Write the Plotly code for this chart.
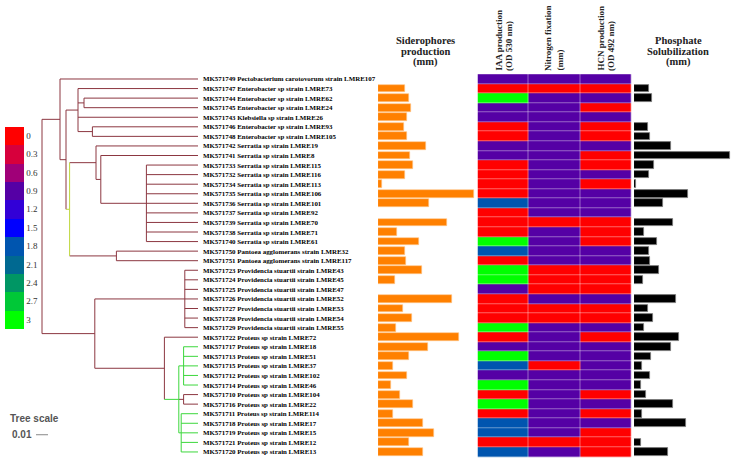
import plotly.graph_objects as go

W, H = 735, 462

strains = [
    "MK571749 Pectobacterium carotovorum strain LMRE107",
    "MK571747 Enterobacter sp strain LMRE73",
    "MK571744 Enterobacter sp strain LMRE62",
    "MK571745 Enterobacter sp strain LMRE24",
    "MK571743 Klebsiella sp strain LMRE26",
    "MK571746 Enterobacter sp strain LMRE93",
    "MK571748 Enterobacter sp strain LMRE105",
    "MK571742 Serratia sp strain LMRE19",
    "MK571741 Serratia sp strain LMRE8",
    "MK571733 Serratia sp strain LMRE115",
    "MK571732 Serratia sp strain LMRE116",
    "MK571734 Serratia sp strain LMRE113",
    "MK571735 Serratia sp strain LMRE106",
    "MK571736 Serratia sp strain LMRE101",
    "MK571737 Serratia sp strain LMRE92",
    "MK571739 Serratia sp strain LMRE70",
    "MK571738 Serratia sp strain LMRE71",
    "MK571740 Serratia sp strain LMRE61",
    "MK571750 Pantoea agglomerans strain LMRE32",
    "MK571751 Pantoea agglomerans strain LMRE117",
    "MK571723 Providencia stuartii strain LMRE43",
    "MK571724 Providencia stuartii strain LMRE45",
    "MK571725 Providencia stuartii strain LMRE47",
    "MK571726 Providencia stuartii strain LMRE52",
    "MK571727 Providencia stuartii strain LMRE53",
    "MK571728 Providencia stuartii strain LMRE54",
    "MK571729 Providencia stuartii strain LMRE55",
    "MK571722 Proteus sp strain LMRE72",
    "MK571717 Proteus sp strain LMRE18",
    "MK571713 Proteus sp strain LMRE51",
    "MK571715 Proteus sp strain LMRE37",
    "MK571712 Proteus sp strain LMRE102",
    "MK571714 Proteus sp strain LMRE46",
    "MK571710 Proteus sp strain LMRE104",
    "MK571716 Proteus sp strain LMRE22",
    "MK571711 Proteus sp strain LMRE114",
    "MK571718 Proteus sp strain LMRE17",
    "MK571719 Proteus sp strain LMRE15",
    "MK571721 Proteus sp strain LMRE12",
    "MK571720 Proteus sp strain LMRE13",
]
rows = list(range(1, len(strains) + 1))

siderophores = [None, 2.7, 3.1, 3.3, 2.9, 2.6, 2.9, 4.8, 3.2, 3.5,
                2.7, 0.4, 9.6, 5.1, None, 6.9, 1.9, 4.1, 2.7, 2.8,
                4.4, 1.7, None, 7.4, 2.5, 3.4, 1.8, 8.1, 5.0, 3.1,
                1.5, 2.9, 1.3, 2.2, 3.5, 1.5, 4.5, 5.6, 3.1, 4.5]

phosphate = [None, 1.5, 1.8, None, None, 1.4, 1.6, 3.7, 9.6, 2.0,
             1.5, 0.2, 5.4, 2.9, None, 3.9, 1.0, 2.3, 1.5, 1.6,
             2.5, 0.9, None, 4.2, 1.4, 1.9, 1.0, 4.5, 3.7, 1.7,
             0.8, 1.6, 0.7, 1.2, 3.9, 0.8, 5.2, None, 0.7, 3.4]

iaa = [0.9, 0, 3, 0.9, 0.9, 0, 0, 0.9, 0.9, 0,
       0, 0, 0, 1.8, 0, 0, 0, 3, 1.8, 0,
       3, 3, 0.9, 0, 0, 0, 3, 0, 0.9, 3,
       1.8, 0.9, 3, 0, 3, 0, 1.8, 1.8, 0, 1.8]
nitrogen = [0.9, 0, 0.9, 0.9, 0.9, 0.9, 0.9, 0.9, 0.9, 0.9,
            0.9, 0.9, 0.9, 0.9, 0.9, 0, 0.9, 0.9, 0.9, 0.9,
            0, 0, 0, 0.9, 0, 0, 0.9, 0.9, 0.9, 0.9,
            0, 0.9, 0.9, 0.9, 0.9, 0.9, 0.9, 0.9, 0, 0.9]
hcn = [0.9, 0, 0.9, 0, 0.9, 0, 0, 0.9, 0, 0,
       0.9, 0, 0.9, 0.9, 0.9, 0, 0, 0, 0.9, 0.9,
       0, 0, 0, 0.9, 0, 0, 0.9, 0, 0.9, 0.9,
       0.9, 0.9, 0.9, 0, 0.9, 0, 0.9, 0, 0, 0]
heat_cols = ["IAA", "Nitrogen", "HCN"]

scale_ticks = [0, 0.3, 0.6, 0.9, 1.2, 1.5, 1.8, 2.1, 2.4, 2.7, 3]
scale_labels = ["0", "0.3", "0.6", "0.9", "1.2", "1.5", "1.8", "2.1", "2.4", "2.7", "3"]
band_colors = ["rgb(255,0,0)", "rgb(215,0,60)", "rgb(160,0,120)", "rgb(85,0,165)",
               "rgb(50,0,215)", "rgb(0,0,255)", "rgb(0,85,175)", "rgb(0,105,145)",
               "rgb(0,150,100)", "rgb(0,200,55)", "rgb(0,255,0)"]

BROWN = "rgb(140,55,65)"
GREEN = "rgb(60,215,60)"
YGREEN = "rgb(190,215,60)"

# tree: ("node", branch_length, colour, children); integers are leaf rows
tree = ("node", 0.0, BROWN, [
    ("node", 0.015, BROWN, [
        1,
        ("node", 0.005, BROWN, [
            ("node", 0.010, BROWN, [2, ("node", 0.005, BROWN, [3, 4]), 5,
                                    ("node", 0.012, BROWN, [6, 7])]),
            ("node", 0.003, YGREEN, [
                ("node", 0.022, BROWN, [8, ("node", 0.004, BROWN, [
                    9, ("node", 0.038, BROWN, [10, 11, 12, 13, 14, 15, 16, 17, 18])])]),
                ("node", 0.039, BROWN, [19, 20])]),
        ]),
    ]),
    ("node", 0.044, BROWN, [
        ("node", 0.075, BROWN, [21, 22, 23, 24, 25, 26, 27]),
        ("node", 0.058, BROWN, [28, ("node", 0.012, GREEN, [
            ("node", 0.004, GREEN, [29, 30, 31, 32, 33]),
            ("node", 0.004, BROWN, [34, 35]),
            ("node", 0.002, GREEN, [36, 37, 38, 39, 40])])]),
    ]),
])
TIP = 0.13
scale_len = 0.01

segs = {}


def add(color, xs, ys):
    segs.setdefault(color, ([], []))
    segs[color][0].extend(xs + [None])
    segs[color][1].extend(ys + [None])


def layout_node(n, x0):
    if isinstance(n, int):
        return n, TIP
    _, bl, col, kids = n
    x = x0 + bl
    ys = []
    for k in kids:
        ky, kx = layout_node(k, x)
        kcol = col if isinstance(k, int) else k[2]
        add(kcol, [x, kx], [ky, ky])
        ys.append(ky)
    add(col, [x, x], [min(ys), max(ys)])
    return (min(ys) + max(ys)) / 2, x


layout_node(tree, 0.0)

fig = go.Figure()
for col, (xs, ys) in segs.items():
    fig.add_trace(go.Scatter(x=xs, y=ys, mode="lines", line=dict(color=col, width=1),
                             xaxis="x", yaxis="y", hoverinfo="skip", showlegend=False))

# tree scale bar
fig.add_trace(go.Scatter(x=[-scale_len / 2, scale_len / 2], y=[38.2, 38.2], mode="lines",
                         line=dict(color="#888", width=1), xaxis="x", yaxis="y",
                         hoverinfo="skip", showlegend=False))

fig.add_trace(go.Bar(y=rows, x=siderophores, orientation="h", width=0.82,
                     marker=dict(color="rgb(255,128,0)", line=dict(color="rgb(255,200,140)", width=0.6)),
                     xaxis="x2", yaxis="y", showlegend=False, hoverinfo="skip"))

# colour bar runs 0 (top) -> 3 (bottom): plot the negated score so the scale is flipped
z = [[-a, -b, -c] for a, b, c in zip(iaa, nitrogen, hcn)]
cs = []
rev = band_colors[::-1]
nb = len(rev)
for i, c in enumerate(rev):
    cs.append([i / nb, c])
    cs.append([(i + 1) / nb, c])
fig.add_trace(go.Heatmap(z=z, x=[0, 1, 2], y=rows, xaxis="x3", yaxis="y",
                         colorscale=cs, zmin=-3.15, zmax=0.15, hoverinfo="skip",
                         xgap=0.4, ygap=0.4,
                         colorbar=dict(x=5 / W, xanchor="left", y=1 - 126.7 / H, yanchor="top",
                                       len=202 / H, lenmode="fraction", thickness=19,
                                       thicknessmode="pixels", outlinewidth=0,
                                       tickvals=[-t for t in scale_ticks], ticktext=scale_labels,
                                       ticks="",
                                       tickfont=dict(family="Liberation Serif", size=9, color="#333"),
                                       xpad=0, ypad=0)))

fig.add_trace(go.Bar(y=rows, x=phosphate, orientation="h", width=0.8,
                     marker=dict(color="black", line=dict(color="rgb(120,120,120)", width=0.8)),
                     xaxis="x4", yaxis="y", showlegend=False, hoverinfo="skip"))

ann = []
for r, s in zip(rows, strains):
    ann.append(dict(x=201 / W, xref="paper", y=r, yref="y", text="<b>" + s + "</b>",
                    xanchor="left", yanchor="middle", showarrow=False,
                    font=dict(family="Liberation Serif", size=6.9, color="black")))


def hdr(lines, cx, ys):
    for t, yy in zip(lines, ys):
        ann.append(dict(x=cx / W, xref="paper", y=1 - yy / H, yref="paper", text="<b>" + t + "</b>",
                        xanchor="center", yanchor="middle", showarrow=False,
                        font=dict(family="Liberation Serif", size=10.5, color="#222")))


hdr(["Siderophores", "production", "(mm)"], 426, [40.5, 51.5, 62.5])
hdr(["Phosphate", "Solubilization", "(mm)"], 678, [40.5, 51.5, 62.5])


def vhdr(lines, xs):
    for t, xx in zip(lines, xs):
        ann.append(dict(x=xx / W, xref="paper", y=1 - 72 / H, yref="paper", text="<b>" + t + "</b>",
                        textangle=-90, xanchor="center", yanchor="bottom", showarrow=False,
                        borderpad=0,
                        font=dict(family="Liberation Serif", size=9, color="#222")))


vhdr(["IAA production", "(OD 530 nm)"], [498, 509])
vhdr(["Nitrogen fixation", "(mm)"], [548, 559])
vhdr(["HCN production", "(OD 492 nm)"], [600, 611])

ann.append(dict(x=8 / W, xref="paper", y=1 - 418 / H, yref="paper", text="<b>Tree scale</b>",
                xanchor="left", yanchor="middle", showarrow=False,
                font=dict(family="Liberation Sans", size=10, color="#555")))
ann.append(dict(x=10 / W, xref="paper", y=1 - 434 / H, yref="paper", text="<b>0.01</b>",
                xanchor="left", yanchor="middle", showarrow=False,
                font=dict(family="Liberation Sans", size=10, color="#555")))

hid = dict(visible=False, showgrid=False, zeroline=False)
fig.update_layout(
    width=W, height=H, margin=dict(l=0, r=0, t=0, b=0),
    paper_bgcolor="white", plot_bgcolor="rgba(0,0,0,0)",
    xaxis=dict(domain=[0, 200 / W], range=[-0.035, 0.13167], anchor="y", **hid),
    xaxis2=dict(domain=[378 / W, 476 / W], range=[0, 9.8], anchor="y", **hid),
    xaxis3=dict(domain=[477.5 / W, 631.5 / W], range=[-0.5, 2.5], anchor="y", **hid),
    xaxis4=dict(domain=[634 / W, 732 / W], range=[0, 9.8], anchor="y", **hid),
    yaxis=dict(range=[41.05, -7.26], **hid),
    annotations=ann,
    bargap=0,
)
fig.write_html("out.html", config={"displayModeBar": False},
               post_script="document.body.style.margin='0';")
